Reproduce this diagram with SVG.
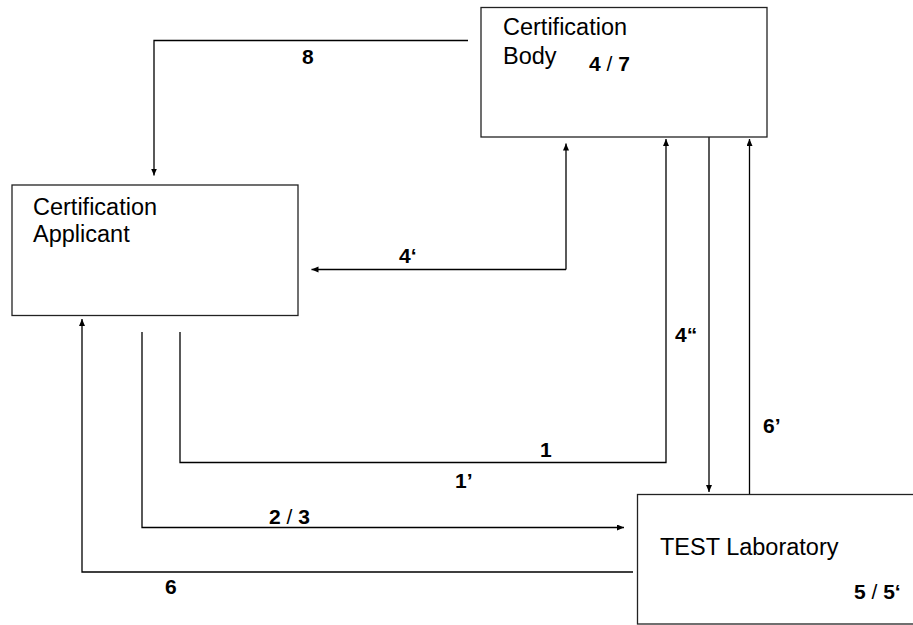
<svg xmlns="http://www.w3.org/2000/svg" width="913" height="625" viewBox="0 0 913 625">
<style>
.box{fill:#fff;stroke:#222;stroke-width:1.3}
.ln{fill:none;stroke:#000;stroke-width:1.3}
.arr{marker-end:url(#ah)}
.t{font-family:"Liberation Sans",Arial,sans-serif;font-size:23.5px;fill:#000}
.lb{font-family:"Liberation Sans",Arial,sans-serif;font-size:21px;font-weight:bold;fill:#000}
.sl{font-weight:normal}
</style>
<defs>
<marker id="ah" markerUnits="userSpaceOnUse" markerWidth="8" markerHeight="7" refX="7" refY="3" orient="auto">
<path d="M0,0 L7,3 L0,6 z" fill="#000"/>
</marker>
</defs>
<rect width="913" height="625" fill="#fff"/>
<g id="connectors">
<polyline class="ln arr" points="468,40.5 154,40.5 154,175.5"/>
<polyline class="ln arr" points="566,269.5 311.5,269.5"/>
<line class="ln arr" x1="566" y1="269.5" x2="566" y2="143.5"/>
<polyline class="ln arr" points="180,332 180,462.5 666,462.5 666,139"/>
<polyline class="ln arr" points="142,332 142,527.5 624,527.5"/>
<polyline class="ln arr" points="633,572 82,572 82,319"/>
<line class="ln arr" x1="709" y1="137" x2="709" y2="492"/>
<line class="ln arr" x1="749.5" y1="494" x2="749.5" y2="139"/>
<text class="lb" x="302" y="64">8</text>
<text class="lb" x="399" y="263">4‘</text>
<text class="lb" x="675" y="342">4“</text>
<text class="lb" x="763" y="433">6’</text>
<text class="lb" x="540" y="457">1</text>
<text class="lb" x="455" y="487.5">1’</text>
<text class="lb" x="269" y="523.5">2 <tspan class="sl">/</tspan> 3</text>
<text class="lb" x="165" y="593.5">6</text>
</g>
<g id="certification-body">
<rect class="box" x="481" y="7.5" width="286" height="129.5"/>
<text class="t" x="503" y="35">Certification</text>
<text class="t" x="503" y="63.5">Body</text>
<text class="lb" x="589" y="71">4 <tspan class="sl">/</tspan> 7</text>
</g>
<g id="certification-applicant">
<rect class="box" x="12" y="185" width="286" height="130.5"/>
<text class="t" x="33" y="215">Certification</text>
<text class="t" x="33" y="242">Applicant</text>
</g>
<g id="test-laboratory">
<rect class="box" x="637.5" y="494.5" width="290" height="129.5"/>
<text class="t" x="660" y="555">TEST Laboratory</text>
<text class="lb" x="854" y="599">5 <tspan class="sl">/</tspan> 5‘</text>
</g>
</svg>
